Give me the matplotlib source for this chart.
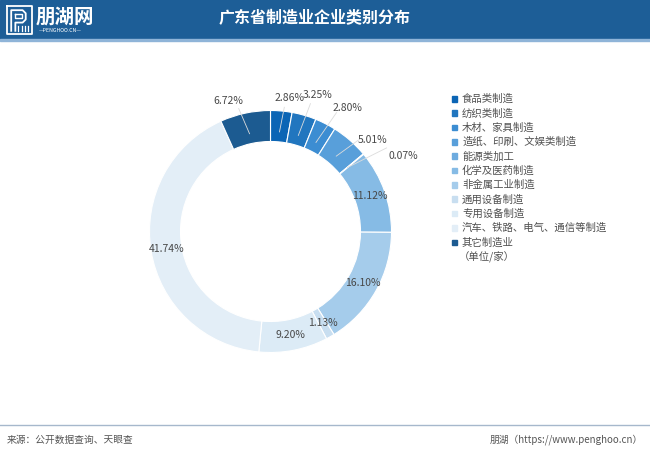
import numpy as np
import matplotlib
matplotlib.use("Agg")
import matplotlib.pyplot as plt
from matplotlib.patches import Rectangle

plt.rcParams["font.family"] = ["Noto Sans CJK SC", "DejaVu Sans"]

categories = ["食品类制造", "纺织类制造", "木材、家具制造", "造纸、印刷、文娱类制造", "能源类加工",
              "化学及医药制造", "非金属工业制造", "通用设备制造", "专用设备制造",
              "汽车、铁路、电气、通信等制造", "其它制造业"]
shares = [2.86, 3.25, 2.80, 5.01, 0.07, 11.12, 16.10, 1.13, 9.20, 41.74, 6.72]
colors = ["#0b65b5", "#2176bf", "#3c8dd2", "#589fda", "#6dabdf", "#86bbe5",
          "#a5cceb", "#c8def0", "#dcebf6", "#e3eef7", "#1c5b91"]

# labels drawn outside the ring: (angle shift in degrees, radius in px)
outside = {0: (3, 135), 1: (3, 144), 2: (5, 146), 3: (7, 137), 4: (10, 153), 10: (-6, 137)}

W, H = 650, 455
fig = plt.figure(figsize=(6.5, 4.55), dpi=100)


def fx(px):
    return px / W


def fy(py):
    return 1 - py / H


# header band
fig.patches.append(Rectangle((0, fy(39)), 1, 39 / H, transform=fig.transFigure,
                             color="#1d5e97", zorder=-2))
fig.patches.append(Rectangle((0, fy(41)), 1, 2 / H, transform=fig.transFigure,
                             color="#8fb4d8", zorder=-2))
fig.text(fx(315), fy(18), "广东省制造业企业类别分布", color="white", fontsize=11.5,
         fontweight="bold", ha="center", va="center")

# logo
logo = fig.add_axes([fx(5), fy(36), fx(29), 32 / H])
logo.set_xlim(0, 28)
logo.set_ylim(31, 0)
logo.axis("off")
logo.plot([2, 2, 26, 26, 2], [2, 29, 29, 2, 2], color="white", lw=1.3)
logo.plot([6, 6, 17, 20, 20, 17, 10, 10], [26, 6, 6, 9, 15, 18, 18, 26], color="white", lw=1.3)
logo.plot([10, 10, 16, 16, 10], [10, 14, 14, 10, 10], color="white", lw=1.0)
for xx in [13, 16, 19, 22]:
    logo.plot([xx, xx], [21, 26], color="white", lw=0.9)
fig.text(fx(36), fy(17), "朋湖网", color="white", fontsize=14, fontweight="bold",
         ha="left", va="center")
fig.text(fx(60), fy(31), "—PENGHOO.CN—", color="white", fontsize=3.8,
         ha="center", va="center")

# donut
cx, cy, R, ring = 270.5, 231.5, 121, 31
box = 130
ax = fig.add_axes([fx(cx - box), fy(cy + box), 2 * box / W, 2 * box / H])
ax.pie(shares, colors=colors, radius=R, startangle=90, counterclock=False,
       wedgeprops=dict(width=ring, edgecolor="white", linewidth=0.8))
ax.set_xlim(-box, box)
ax.set_ylim(-box, box)
ax.set_aspect("equal")
ax.axis("off")

cum = np.cumsum([0] + shares[:-1])
for i, (val, start) in enumerate(zip(shares, cum)):
    mid = (start + val / 2) / 100 * 360  # clockwise from 12 o'clock
    label = f"{val:.2f}%"
    if i in outside:
        shift, rl = outside[i]
        a0 = np.radians(mid)
        x0, y0 = 100 * np.sin(a0), 100 * np.cos(a0)
        a1 = np.radians(mid + shift * 0.4)
        x1, y1 = (rl - 10) * np.sin(a1), (rl - 10) * np.cos(a1)
        ax.plot([x0, x1], [y0, y1], color="#dcdcdc", lw=0.6, zorder=3, clip_on=False)
        a = np.radians(mid + shift)
        ax.text(rl * np.sin(a), rl * np.cos(a), label, fontsize=7.5, color="#484848",
                ha="center", va="center")
    else:
        a = np.radians(mid)
        rl = R - ring / 2
        ax.text(rl * np.sin(a), rl * np.cos(a), label, fontsize=7.5, color="#484848",
                ha="center", va="center")

# legend
for k, (name, col) in enumerate(zip(categories, colors)):
    yy = 99 + k * 14.35
    fig.patches.append(Rectangle((fx(452), fy(yy + 2.5)), 5.5 / W, 5.5 / H,
                                 transform=fig.transFigure, color=col))
    fig.text(fx(462), fy(yy), name, fontsize=7.5, color="#505050", ha="left", va="center")
fig.text(fx(459), fy(257), "（单位/家）", fontsize=7.5, color="#505050", ha="left", va="center")

# footer
fig.lines.append(plt.Line2D([0, 1], [fy(425), fy(425)], transform=fig.transFigure,
                            color="#a6b8cc", lw=1))
fig.text(fx(7), fy(440), "来源：公开数据查询、天眼查", fontsize=7, color="#555555",
         ha="left", va="center")
fig.text(fx(643), fy(440), "朋湖（https://www.penghoo.cn）", fontsize=7, color="#555555",
         ha="right", va="center")

fig.savefig("out.png", dpi=100)
